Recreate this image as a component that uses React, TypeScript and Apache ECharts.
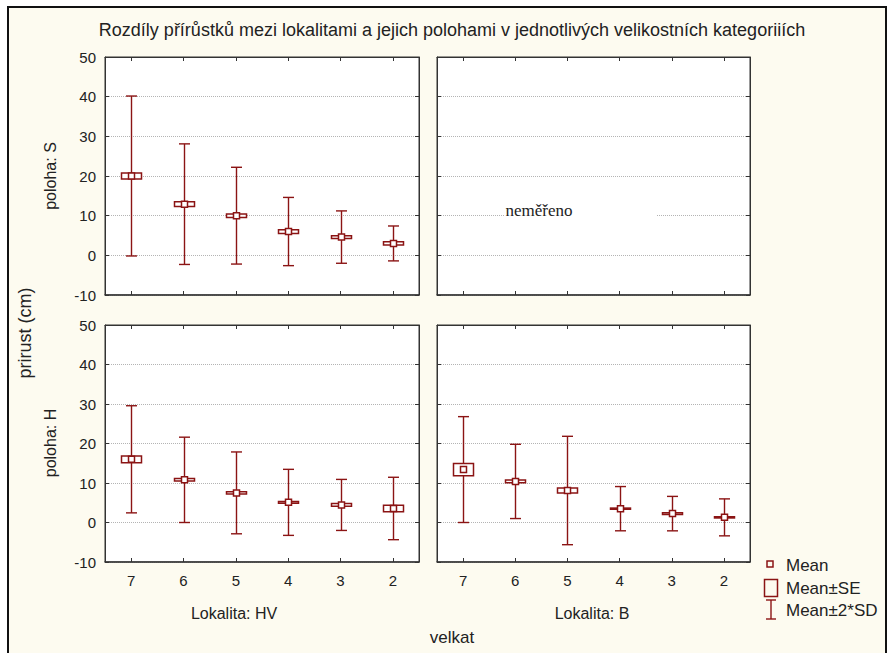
import React, { useEffect, useRef } from "react";
import * as echarts from "echarts";

// ---------- data ----------
const categories = ["7", "6", "5", "4", "3", "2"];
const yMin = -10;
const yMax = 50;
const yStep = 10;

// Lokalita HV, poloha S
const hvS_mean = [20.0, 12.9, 10.0, 6.0, 4.6, 3.0];
const hvS_se = [0.73, 0.6, 0.44, 0.48, 0.35, 0.4];
const hvS_sd = [10.08, 7.6, 6.1, 4.3, 3.3, 2.2];

// Lokalita HV, poloha H
const hvH_mean = [16.0, 10.8, 7.5, 5.1, 4.45, 3.55];
const hvH_se = [0.86, 0.32, 0.28, 0.23, 0.35, 0.82];
const hvH_sd = [6.78, 5.4, 5.18, 4.18, 3.23, 3.95];

// Lokalita B, poloha H
const bH_mean = [13.4, 10.4, 8.1, 3.5, 2.25, 1.3];
const bH_se = [1.54, 0.35, 0.66, 0.15, 0.23, 0.15];
const bH_sd = [6.7, 4.7, 6.86, 2.8, 2.18, 2.34];

const titleText =
  "Rozdíly přírůstků mezi lokalitami a jejich polohami v jednotlivých velikostních kategoriiích";

// ---------- styling ----------
const RED = "#8B1414";
const AXIS = "#333";
const SANS = '"Liberation Sans", Arial, sans-serif';
const TXT = "#222";

const panels = [
  { left: 105, top: 57, width: 314, height: 238, xLabels: false, yLabels: true },
  { left: 437, top: 57, width: 313, height: 238, xLabels: false, yLabels: false },
  { left: 105, top: 325, width: 314, height: 237, xLabels: true, yLabels: true },
  { left: 437, top: 325, width: 313, height: 237, xLabels: true, yLabels: false },
];

const renderItem = (params: any, api: any) => {
  const x = api.value(0);
  const mean = api.value(1);
  const se = api.value(2);
  const sd = api.value(3);
  const c = api.coord([x, mean]);
  const hi = api.coord([x, mean + 2 * sd]);
  const lo = api.coord([x, mean - 2 * sd]);
  const seHi = api.coord([x, mean + se]);
  const seLo = api.coord([x, mean - se]);
  const cx = Math.round(c[0]) + 0.5;
  const lineStyle = { stroke: RED, lineWidth: 1.4 };
  const boxStyle = { fill: "#fff", stroke: RED, lineWidth: 1.5 };
  return {
    type: "group",
    children: [
      { type: "line", shape: { x1: cx, y1: hi[1], x2: cx, y2: lo[1] }, style: lineStyle },
      { type: "line", shape: { x1: cx - 5.5, y1: hi[1], x2: cx + 5.5, y2: hi[1] }, style: lineStyle },
      { type: "line", shape: { x1: cx - 5.5, y1: lo[1], x2: cx + 5.5, y2: lo[1] }, style: lineStyle },
      {
        type: "rect",
        shape: { x: cx - 10, y: seHi[1], width: 20, height: Math.max(seLo[1] - seHi[1], 1) },
        style: boxStyle,
      },
      { type: "rect", shape: { x: cx - 3, y: c[1] - 3, width: 6, height: 6 }, style: boxStyle },
    ],
  };
};

const makeData = (m: number[], se: number[], sd: number[]) =>
  m.map((v, i) => [i, v, se[i], sd[i]]);

export default function App() {
  const ref = useRef<HTMLDivElement>(null);

  useEffect(() => {
    if (!ref.current) return;
    const chart = echarts.init(ref.current, undefined, { renderer: "svg" });

    const grid = panels.map((p) => ({
      left: p.left,
      top: p.top,
      width: p.width,
      height: p.height,
      show: true,
      backgroundColor: "#fff",
      borderColor: AXIS,
      borderWidth: 1,
      containLabel: false,
    }));

    const xAxis: any[] = [];
    const yAxis: any[] = [];
    panels.forEach((p, i) => {
      xAxis.push({
        type: "category",
        gridIndex: i,
        data: categories,
        position: "bottom",
        boundaryGap: true,
        axisLine: { show: true, onZero: false, lineStyle: { color: AXIS, width: 1.5 } },
        axisTick: { show: true, inside: true, alignWithLabel: true, length: 4, lineStyle: { color: AXIS } },
        axisLabel: { show: p.xLabels, margin: 11, fontSize: 15, fontFamily: SANS, color: TXT },
        splitLine: { show: false },
      });
      xAxis.push({
        type: "category",
        gridIndex: i,
        data: categories,
        position: "top",
        boundaryGap: true,
        axisLine: { show: true, onZero: false, lineStyle: { color: AXIS } },
        axisTick: { show: true, inside: true, alignWithLabel: true, length: 4, lineStyle: { color: AXIS } },
        axisLabel: { show: false },
        splitLine: { show: false },
      });
      yAxis.push({
        type: "value",
        gridIndex: i,
        min: yMin,
        max: yMax,
        interval: yStep,
        position: "left",
        axisLine: { show: true, onZero: false, lineStyle: { color: AXIS } },
        axisTick: { show: true, inside: true, length: 4, lineStyle: { color: AXIS } },
        axisLabel: { show: p.yLabels, margin: 9, fontSize: 15, fontFamily: SANS, color: TXT },
        splitLine: { show: true, lineStyle: { color: "#b4b4b4", type: "dotted", width: 1 } },
      });
      yAxis.push({
        type: "value",
        gridIndex: i,
        min: yMin,
        max: yMax,
        interval: yStep,
        position: "right",
        axisLine: { show: true, onZero: false, lineStyle: { color: AXIS } },
        axisTick: { show: true, inside: true, length: 4, lineStyle: { color: AXIS } },
        axisLabel: { show: false },
        splitLine: { show: false },
      });
    });

    const seriesDefs = [
      { panel: 0, data: makeData(hvS_mean, hvS_se, hvS_sd) },
      { panel: 2, data: makeData(hvH_mean, hvH_se, hvH_sd) },
      { panel: 3, data: makeData(bH_mean, bH_se, bH_sd) },
    ];

    const series = seriesDefs.map((s) => ({
      type: "custom",
      xAxisIndex: s.panel * 2,
      yAxisIndex: s.panel * 2,
      renderItem,
      encode: { x: 0, y: 1 },
      data: s.data,
      z: 5,
      clip: false,
    }));

    const txt = (text: string, x: number, y: number, size: number, opts: any = {}) => ({
      type: "text",
      x,
      y,
      rotation: opts.rotation || 0,
      z: 20,
      style: {
        text,
        font: `${size}px ${opts.family || SANS}`,
        fill: TXT,
        textAlign: opts.align || "center",
        textVerticalAlign: "middle",
      },
    });

    const graphic: any[] = [
      txt(titleText, 452, 30, 18),
      txt("prirust (cm)", 25, 333, 18, { rotation: Math.PI / 2 }),
      txt("poloha: S", 50, 176, 16, { rotation: Math.PI / 2 }),
      txt("poloha: H", 50, 443, 16, { rotation: Math.PI / 2 }),
      txt("Lokalita: HV", 234, 613, 16),
      txt("Lokalita: B", 592, 613, 16),
      txt("velkat", 452, 637, 17),
      // "neměřeno" note with white patch
      {
        type: "rect",
        z: 15,
        shape: { x: 504, y: 209, width: 153, height: 13 },
        style: { fill: "#fff" },
      },
      txt("neměřeno", 539, 210, 17, { family: '"Liberation Serif", "Times New Roman", serif' }),
      // legend
      {
        type: "rect",
        z: 20,
        shape: { x: 767, y: 561, width: 6, height: 6 },
        style: { fill: "none", stroke: RED, lineWidth: 1.5 },
      },
      txt("Mean", 786, 565, 17, { align: "left" }),
      {
        type: "rect",
        z: 20,
        shape: { x: 764.5, y: 579.5, width: 13, height: 17 },
        style: { fill: "none", stroke: RED, lineWidth: 1.5 },
      },
      txt("Mean±SE", 786, 588, 17, { align: "left" }),
      {
        type: "line",
        z: 20,
        shape: { x1: 771, y1: 600, x2: 771, y2: 619 },
        style: { stroke: RED, lineWidth: 1.4 },
      },
      {
        type: "line",
        z: 20,
        shape: { x1: 766, y1: 600, x2: 776, y2: 600 },
        style: { stroke: RED, lineWidth: 1.4 },
      },
      {
        type: "line",
        z: 20,
        shape: { x1: 766, y1: 619, x2: 776, y2: 619 },
        style: { stroke: RED, lineWidth: 1.4 },
      },
      txt("Mean±2*SD", 786, 610, 17, { align: "left" }),
    ];

    chart.setOption({
      animation: false,
      backgroundColor: "transparent",
      grid,
      xAxis,
      yAxis,
      series,
      graphic,
    });

    return () => chart.dispose();
  }, []);

  return (
    <div
      style={{
        position: "absolute",
        left: 0,
        top: 0,
        width: 887,
        height: 653,
        background: "#fff",
        overflow: "hidden",
      }}
    >
      <div
        style={{
          position: "absolute",
          left: 7,
          top: 6,
          width: 876,
          height: 700,
          border: "2px solid #111",
          background: "#FDFBF0",
        }}
      />
      <div ref={ref} style={{ position: "absolute", left: 0, top: 0, width: 887, height: 653 }} />
    </div>
  );
}
